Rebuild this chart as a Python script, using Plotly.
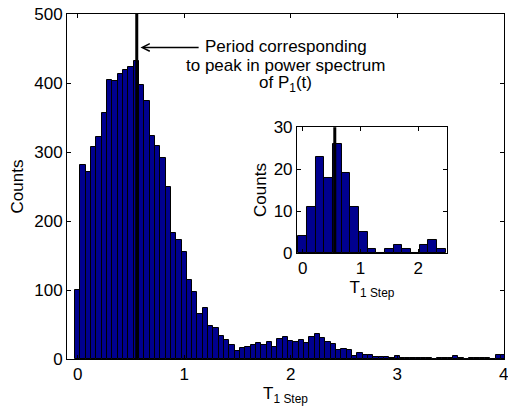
import plotly.graph_objects as go

# ---- data ----
main_bin_start = 0.0
main_bin_width = 0.05
main_counts = [100, 282, 272, 308, 322, 357, 405, 403, 414, 419,
               424, 432, 398, 375, 323, 309, 291, 250, 183, 172,
               155, 115, 97, 66, 74, 48, 45, 33, 27, 20,
               11, 16, 17, 20, 23, 21, 25, 18, 29, 32,
               26, 25, 27, 23, 32, 36, 30, 25, 22, 13,
               14, 13, 5, 9, 6, 6, 3, 3, 3, 1,
               4, 1, 1, 2, 1, 2, 2, 0, 1, 1,
               2, 4, 2, 0, 2, 2, 2, 1, 0, 6, 6]

inset_bin_start = 0.0
inset_bin_width = 0.15
inset_counts = [4, 11, 23, 18, 26, 19, 11, 5, 1, 0, 1, 2, 1, 0, 2, 3, 1]

peak_period = 0.555
main_xticks = [0, 1, 2, 3, 4]
main_yticks = [0, 100, 200, 300, 400, 500]
inset_xticks = [0, 1, 2]
inset_yticks = [0, 10, 20, 30]

annot_lines = ["Period corresponding", "to peak in power spectrum", "of P<sub>1</sub>(t)"]
annot_y = [453, 426, 399]

FONT = "Liberation Sans, Arial, sans-serif"
FS = 17
BAR_COLOR = "#00008F"

fig = go.Figure()
fig.add_trace(go.Bar(x0=main_bin_start, dx=main_bin_width, y=main_counts,
                     marker=dict(color=BAR_COLOR, line=dict(color="black", width=1)),
                     xaxis="x", yaxis="y", showlegend=False))
fig.add_trace(go.Bar(x0=inset_bin_start, dx=inset_bin_width, y=inset_counts,
                     marker=dict(color=BAR_COLOR, line=dict(color="black", width=1)),
                     xaxis="x2", yaxis="y2", showlegend=False))

# vertical peak lines
fig.add_trace(go.Scatter(x=[peak_period, peak_period], y=[0, 504], mode="lines",
                         line=dict(color="black", width=3), xaxis="x", yaxis="y",
                         showlegend=False, cliponaxis=False))
fig.add_trace(go.Scatter(x=[peak_period, peak_period], y=[0, 30], mode="lines",
                         line=dict(color="black", width=3), xaxis="x2", yaxis="y2",
                         showlegend=False))

axis_common = dict(showline=True, linecolor="black", linewidth=1, mirror="ticks",
                   ticks="inside", ticklen=4, tickcolor="black", showgrid=False,
                   zeroline=False, ticklabeloverflow="allow", automargin=False,
                   tickfont=dict(family=FONT, size=FS, color="black"))

fig.update_layout(
    width=508, height=407,
    margin=dict(l=67, r=4, t=14, b=48, autoexpand=False),
    paper_bgcolor="white", plot_bgcolor="white",
    bargap=0, barmode="overlay",
    font=dict(family=FONT, size=FS, color="black"),
    xaxis=dict(range=[-0.1, 4.003], tickvals=main_xticks, domain=[0, 1],
               title=dict(text="T<sub>1 Step</sub>", font=dict(family=FONT, size=FS), standoff=0),
               **axis_common),
    yaxis=dict(range=[0, 500.5], tickvals=main_yticks, domain=[0, 1],
               title=dict(text="Counts", font=dict(family=FONT, size=FS), standoff=6),
               **axis_common),
    xaxis2=dict(range=[-0.1, 2.5], tickvals=inset_xticks, domain=[0.5263, 0.8696],
                anchor="y2",
                title=dict(text="T<sub>1 Step</sub>", font=dict(family=FONT, size=FS), standoff=0),
                **axis_common),
    yaxis2=dict(range=[0, 30.05], tickvals=inset_yticks, domain=[0.3072, 0.6725],
                anchor="x2",
                title=dict(text="Counts", font=dict(family=FONT, size=FS), standoff=2),
                **axis_common),
)

# arrow
fig.add_annotation(x=0.59, y=452, ax=1.15, ay=452, xref="x", yref="y",
                   axref="x", ayref="y", text="", showarrow=True,
                   arrowhead=5, arrowsize=1, arrowwidth=1.5, arrowcolor="black")

# annotation text lines
for txt, yy in zip(annot_lines, annot_y):
    fig.add_annotation(x=1.955, y=yy, xref="x", yref="y", text=txt, showarrow=False,
                       xanchor="center", yanchor="middle",
                       font=dict(family=FONT, size=FS, color="black"))

fig.write_html("out.html")
